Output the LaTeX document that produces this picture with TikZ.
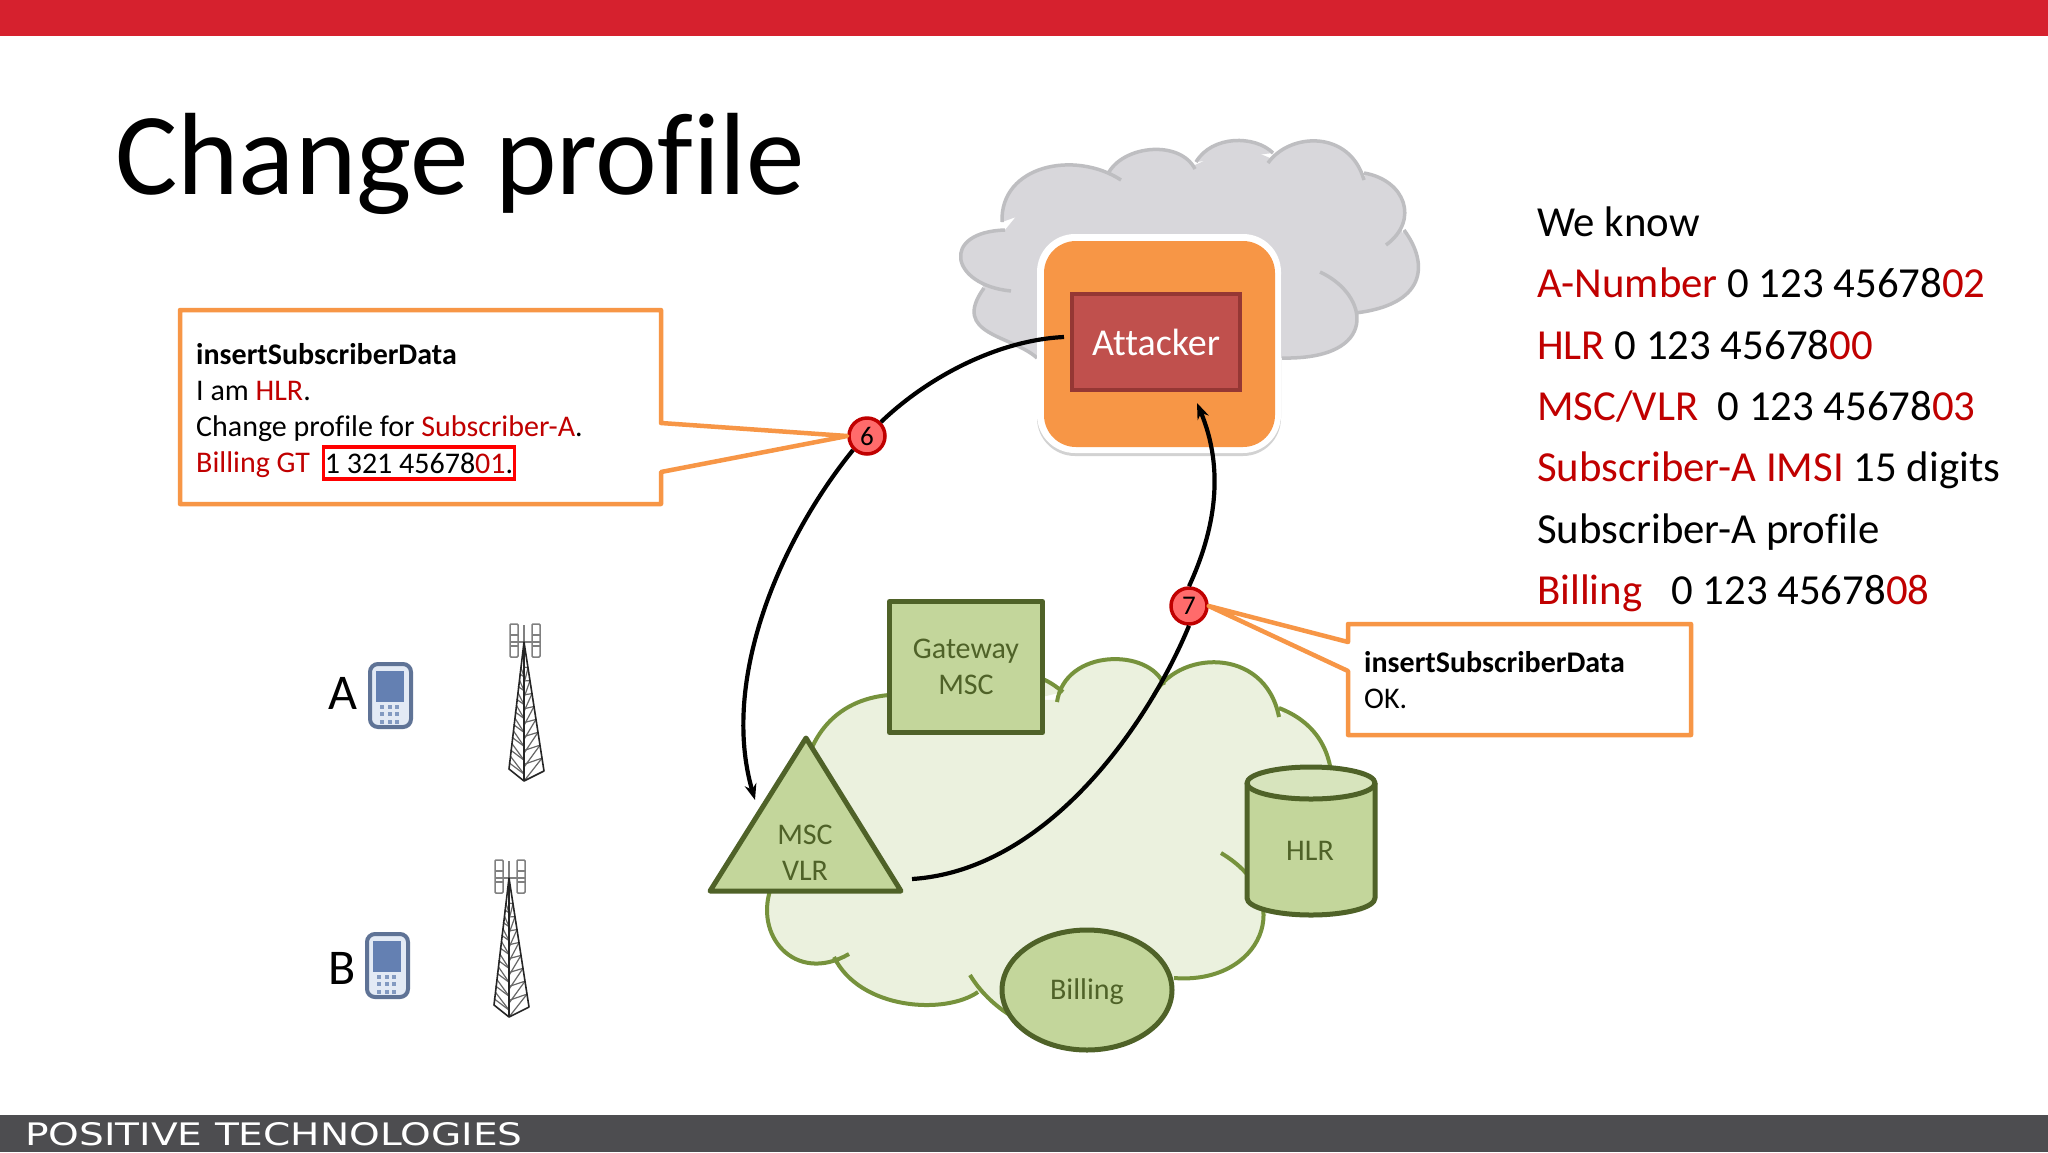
\documentclass[tikz,border=0pt]{standalone}
\usepackage{fontspec}
\setmainfont{Carlito}[Ligatures=NoCommon]
\newfontfamily\logofont{DejaVu Sans}
\usetikzlibrary{arrows.meta,shadows}
\definecolor{bannerred}{RGB}{214,33,46}
\definecolor{footergray}{RGB}{77,77,80}
\definecolor{alertred}{RGB}{192,0,0}
\definecolor{cloudgray}{RGB}{216,215,219}
\definecolor{cloudline}{RGB}{190,190,193}
\definecolor{noteorange}{RGB}{247,150,70}
\definecolor{attackred}{RGB}{192,80,77}
\definecolor{attackline}{RGB}{149,55,52}
\definecolor{netfill}{RGB}{235,241,222}
\definecolor{netline}{RGB}{118,146,60}
\definecolor{elemfill}{RGB}{195,214,155}
\definecolor{elemtop}{RGB}{215,228,189}
\definecolor{elemline}{RGB}{79,98,40}
\definecolor{stepfill}{RGB}{255,107,107}
\definecolor{phoneline}{RGB}{95,115,150}
\definecolor{phonefill}{RGB}{227,234,245}
\definecolor{phonescreen}{RGB}{100,128,178}
\newcommand{\graylobes}{
    (1037,358) .. controls (1012,335) and (950,335) .. (984,288)
    (1011,291) .. controls (950,285) and (940,232) .. (1005,230)
    (1002,222) .. controls (1000,165) and (1075,150) .. (1121,180)
    (1109,172) .. controls (1125,145) and (1180,140) .. (1195,169)
    (1196,162) .. controls (1212,135) and (1255,135) .. (1273,153)
    (1268,163) .. controls (1290,132) and (1350,130) .. (1364,180)
    (1364,173) .. controls (1405,180) and (1420,220) .. (1386,245)
    (1404,230) .. controls (1430,265) and (1425,305) .. (1355,313)
    (1320,272) .. controls (1370,295) and (1380,360) .. (1282,358)
}
\newcommand{\greenlobes}{
    (849,954) .. controls (795,985) and (752,935) .. (772,885)
    (810,752) .. controls (825,715) and (855,698) .. (889,695) -- (1045,680) .. controls (1053,684) and (1058,688) .. (1063,692)
    (1057,702) .. controls (1065,648) and (1150,648) .. (1164,685)
    (1153,697) .. controls (1175,650) and (1265,645) .. (1279,717)
    (1279,708) .. controls (1315,722) and (1333,750) .. (1332,790)
    (1221,853) .. controls (1300,900) and (1260,985) .. (1174,978)
    (1050,1030) .. controls (1015,1025) and (985,1000) .. (970,975)
    (978,992) .. controls (945,1015) and (860,1010) .. (834,957)
}
\tikzset{
    elem/.style={fill=elemfill, draw=elemline, line width=5pt, line join=round},
    elemtext/.style={text=elemline, font=\fontsize{30}{36}\selectfont, align=center, inner sep=0pt},
    notebox/.style={fill=white, draw=noteorange, line width=4.5pt, line join=round},
    notetext/.style={inner sep=0pt, align=left, anchor=north west, font=\fontsize{30}{36}\selectfont},
    knowtext/.style={inner sep=0pt, anchor=base west, font=\fontsize{42.8}{48}\selectfont},
    stepnode/.style={circle, fill=stepfill, draw=alertred, line width=3.5pt, minimum size=36pt, inner sep=0pt, font=\fontsize{27}{27}\selectfont},
    msgline/.style={line width=4.2pt, -{Stealth[length=16pt,width=12pt]}},
    msgtail/.style={line width=4.2pt},
    towerline/.style={black!85, line width=1.6pt, line join=round},
    towerbar/.style={black!60, line width=1.2pt},
    panelline/.style={black!50, line width=1.5pt}
}
\newcommand{\rd}[1]{\textcolor{alertred}{#1}}
\begin{document}
\begin{tikzpicture}[x=1pt, y=-1pt]
    \useasboundingbox (0,0) rectangle (2048,1152);
    \fill[white] (0,0) rectangle (2048,1152);

    % Banner and footer
    \fill[bannerred] (0,0) rectangle (2048,36);
    \fill[footergray] (0,1115) rectangle (2048,1152);
    \node[white, inner sep=0pt, anchor=base west, xscale=1.26, font=\logofont\fontsize{31}{31}\selectfont] (logo) at (25,1145) {POSITIVE TECHNOLOGIES};
    \node[inner sep=0pt, anchor=base west, font=\fontsize{117}{117}\selectfont] (title) at (115,194) {Change profile};

    % Attacker cloud
    \fill[cloudgray] (1037,358) -- (985,325) -- (984,288) -- (965,258) -- (1005,230) -- (1050,175) -- (1109,172) -- (1157,152) -- (1195,165) -- (1239,145) -- (1270,158) -- (1314,145) -- (1364,176) -- (1400,210) -- (1402,232) -- (1412,263) -- (1355,313) -- (1335,342) -- (1282,358) -- cycle;
    \fill[cloudgray] \graylobes;
    \draw[cloudline, line width=3.5pt] \graylobes;
    \fill[white, rounded corners=38pt, drop shadow={shadow xshift=0pt, shadow yshift=-3pt, opacity=0.35}] (1037,234) rectangle (1281,453);
    \fill[noteorange, rounded corners=32pt] (1044,241) rectangle (1275,447);
    \node[fill=attackred, draw=attackline, line width=4pt, minimum width=168pt, minimum height=96pt, inner sep=0pt, text=white, font=\fontsize{38}{38}\selectfont] (attacker) at (1156,342) {Attacker};

    % Operator network cloud
    \fill[netfill] (812,745) -- (889,697) -- (1057,700) -- (1108,662) -- (1164,685) -- (1219,668) -- (1279,712) -- (1320,745) -- (1332,790) -- (1267,913) -- (1259,936) -- (1174,978) -- (1050,1030) -- (978,992) -- (905,1000) -- (834,957) -- (781,945) -- (772,892) -- cycle;
    \fill[netfill] \greenlobes;
    \draw[netline, line width=4pt] \greenlobes;

    % Network elements
    \node[elem, minimum width=153pt, minimum height=131pt, elemtext, text=elemline] (gateway) at (966,667) {Gateway\\MSC};
    \draw[elem] (806,738) -- (901,891) -- (710,891) -- cycle;
    \node[elemtext] (msc) at (805,853) {MSC\\VLR};
    \coordinate (mscout) at (912,879);
    \draw[elem] (1247,783) -- (1247,898) arc[start angle=180, end angle=0, x radius=64, y radius=17] -- (1375,783);
    \draw[elem, fill=elemtop] (1311,783) ellipse[x radius=64, y radius=16];
    \node[elemtext] (hlr) at (1310,851) {HLR};
    \draw[elem] (1087,990) ellipse[x radius=85, y radius=60];
    \node[elemtext] (billing) at (1087,992) {Billing};

    % Steps and callouts
    \node[stepnode] (step6) at (867,436) {6};
    \node[stepnode] (step7) at (1189,606) {7};
    \draw[notebox] (180,310) -- (661,310) -- (661,423) -- (step6.west) -- (661,472) -- (661,504) -- (180,504) -- cycle;
    \node[notetext] (note6) at (196,343) {\textbf{insertSubscriberData}\\I am \rd{HLR}.\\Change profile for \rd{Subscriber-A}.\\\rd{Billing GT}};
    \node[draw=red, line width=3.5pt, minimum width=191pt, minimum height=32pt, inner sep=0pt, font=\fontsize{30}{36}\selectfont] (gtbox) at (419,463) {1 321 45678\rd{01}.};
    \draw[notebox] (1348,624) -- (1691,624) -- (1691,735) -- (1348,735) -- (1348,671) -- (step7.east) -- (1348,642) -- cycle;
    \node[notetext] (note7) at (1364,651) {\textbf{insertSubscriberData}\\OK.};

    % Messages
    \draw[msgtail] ([xshift=-6pt,yshift=5pt]attacker.west) .. controls (1000,340) and (930,375) .. (step6.north east);
    \coordinate (msctip) at (755,800);
    \draw[msgline] (step6.south west) .. controls (780,540) and (720,680) .. (msctip);
    \draw[msgtail] (mscout) .. controls (1050,870) and (1150,720) .. (step7.south);
    \coordinate (attackertip) at (1197,403);
    \draw[msgline] (step7.north) .. controls (1215,530) and (1225,470) .. (attackertip);

    % What the attacker knows
    \node[knowtext] (know1) at (1537,236) {We know};
    \node[knowtext] (know2) at (1537,297) {\rd{A-Number} 0 123 45678\rd{02}};
    \node[knowtext] (know3) at (1537,359) {\rd{HLR} 0 123 45678\rd{00}};
    \node[knowtext] (know4) at (1537,420) {\rd{MSC/VLR}\ \ 0 123 45678\rd{03}};
    \node[knowtext] (know5) at (1537,481) {\rd{Subscriber-A IMSI} 15 digits};
    \node[knowtext] (know6) at (1537,543) {Subscriber-A profile};
    \node[knowtext] (know7) at (1537,604) {\rd{Billing}\ \ \ 0 123 45678\rd{08}};

    % Subscribers
    \node[inner sep=0pt, font=\fontsize{50}{50}\selectfont] (suba) at (343,693) {A};
    \node[inner sep=0pt, font=\fontsize{50}{50}\selectfont] (subb) at (342,968) {B};
    \foreach \px/\py in {368/662, 365/932} {
        \begin{scope}[shift={(\px,\py)}]
            \draw[phoneline, fill=phonefill, line width=4pt, rounded corners=8pt] (2,2) rectangle (43,65);
            \fill[phonescreen] (8,9) rectangle (36,40);
            \foreach \kx in {14,22,29} {
                \foreach \ky in {45,52,60} {
                    \fill[phonescreen!80] (\kx-2,\ky-2) rectangle (\kx+2,\ky+2);
                }
            }
        \end{scope}
    }

    % Towers
    \foreach \tx/\ty in {524/642, 509/878} {
        \begin{scope}[shift={(\tx,\ty)}]
            \draw[panelline, rounded corners=1pt] (-14,-18) rectangle (-6,15);
            \draw[panelline, rounded corners=1pt] (8,-18) rectangle (16,15);
            \draw[panelline] (-14,-7) -- (-6,-7) (-14,4) -- (-6,4) (8,-7) -- (16,-7) (8,4) -- (16,4);
            \draw[panelline] (0,-17) -- (0,0) (-14,0) -- (16,0);
            \foreach \f in {0.2,0.3,...,0.95} {
                \draw[towerbar] ({-15*\f},{127*\f}) -- (0,{139*(\f+0.05)});
                \draw[towerbar] ({-15*(\f+0.1)},{127*(\f+0.05)}) -- (0,{139*(\f+0.05)});
                \draw[towerbar] ({20*\f},{129*\f}) -- (0,{139*(\f+0.1)});
                \draw[towerbar] ({20*\f},{129*\f}) -- (0,{139*(\f-0.02)});
            }
            \draw[towerline] (0,0) -- (-15,127) -- (0,139) -- (20,129) -- cycle;
            \draw[towerline] (0,0) -- (0,139);
        \end{scope}
    }
\end{tikzpicture}
\end{document}
